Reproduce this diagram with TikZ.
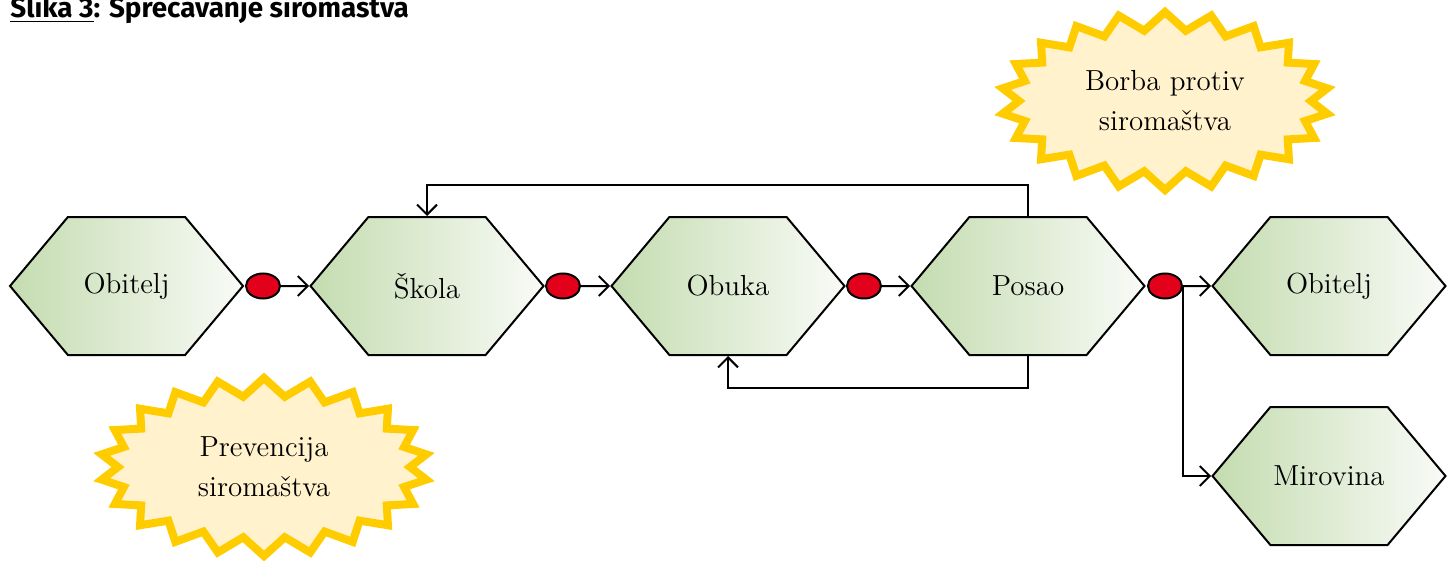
\documentclass[tikz,border=0pt]{standalone}
\usepackage{fontspec}
\newfontfamily\titlefont{Fira Sans}
\usepackage{xcolor}
\usepackage{tikz}
\usetikzlibrary{
  shapes.symbols,
  shapes.geometric,
  arrows.meta
}
\definecolor{hexgreen}{RGB}{196,220,176}
\definecolor{hexwhite}{RGB}{249,251,247}
\definecolor{dotred}{RGB}{226,0,26}
\definecolor{sunyellow}{RGB}{255,204,0}
\definecolor{sunfill}{RGB}{255,242,204}

\begin{document}
\begin{tikzpicture}[
          x=0.5pt,y=-0.5pt,
          hexbox/.style={
              signal,
              signal to=east and west,
              signal pointer angle=100,
              draw,
              line width=1pt,
              minimum width=116.5pt,
              minimum height=69pt,
              inner sep=0pt,
              left color=hexgreen,
              right color=hexwhite,
              font=\fontsize{14.5}{20}\selectfont
            },dot/.style={
              ellipse,
              draw,
              line width=1pt,
              fill=dotred,
              minimum width=17pt,
              minimum height=12.5pt,
              inner sep=0pt
            },sun/.style={
              starburst,
              starburst points=22,
              starburst point height=9pt,
              random starburst=0,
              draw=sunyellow,
              line width=4pt,
              fill=sunfill,
              minimum width=164pt,
              minimum height=89pt,
              align=center,
              font=\fontsize{14.5}{20}\selectfont
            },conn/.style={
              line width=1pt,
              -{Straight Barb[length=5pt,width=10pt,line width=1pt]}
            }
        ]
        \useasboundingbox (0,0) rectangle (1453,562);

        % naslov
        \node[anchor=base west,inner sep=0pt,
          font=\titlefont\bfseries\fontsize{13.9}{16}\selectfont]
          (title) at (10,18) {\underline{Slika 3}: Sprečavanje siromaštva};

        % oblaci
        \node[sun] (borba) at (1165,101) {Borba protiv\\siromaštva};
        \node[sun] (prevencija) at (264,467) {Prevencija\\siromaštva};

        % koraci
        \node[hexbox] (obitelj) at (126.5,286) {Obitelj};
        \node[hexbox] (skola) at (427,286) {Škola};
        \node[hexbox] (obuka) at (728,286) {Obuka};
        \node[hexbox] (posao) at (1028,286) {Posao};
        \node[hexbox] (obiteljB) at (1329,286) {Obitelj};
        \node[hexbox] (mirovina) at (1329,476) {Mirovina};

        % prijelazi
        \node[dot] (d1) at (263,286) {};
        \node[dot] (d2) at (563,286) {};
        \node[dot] (d3) at (864,286) {};
        \node[dot] (d4) at (1165,286) {};

        \draw[conn] (d1) -- (skola);
        \draw[conn] (d2) -- (obuka);
        \draw[conn] (d3) -- (posao);
        \draw[conn] (d4) -- (obiteljB);
        \draw[conn] (d4.east) |- (mirovina.west);

        % povratne veze
        \draw[conn] (posao.north) -- ++(0,-31) -| (skola.north);
        \draw[conn] (posao.south) -- ++(0,32) -| (obuka.south);

      \end{tikzpicture}
\end{document}
